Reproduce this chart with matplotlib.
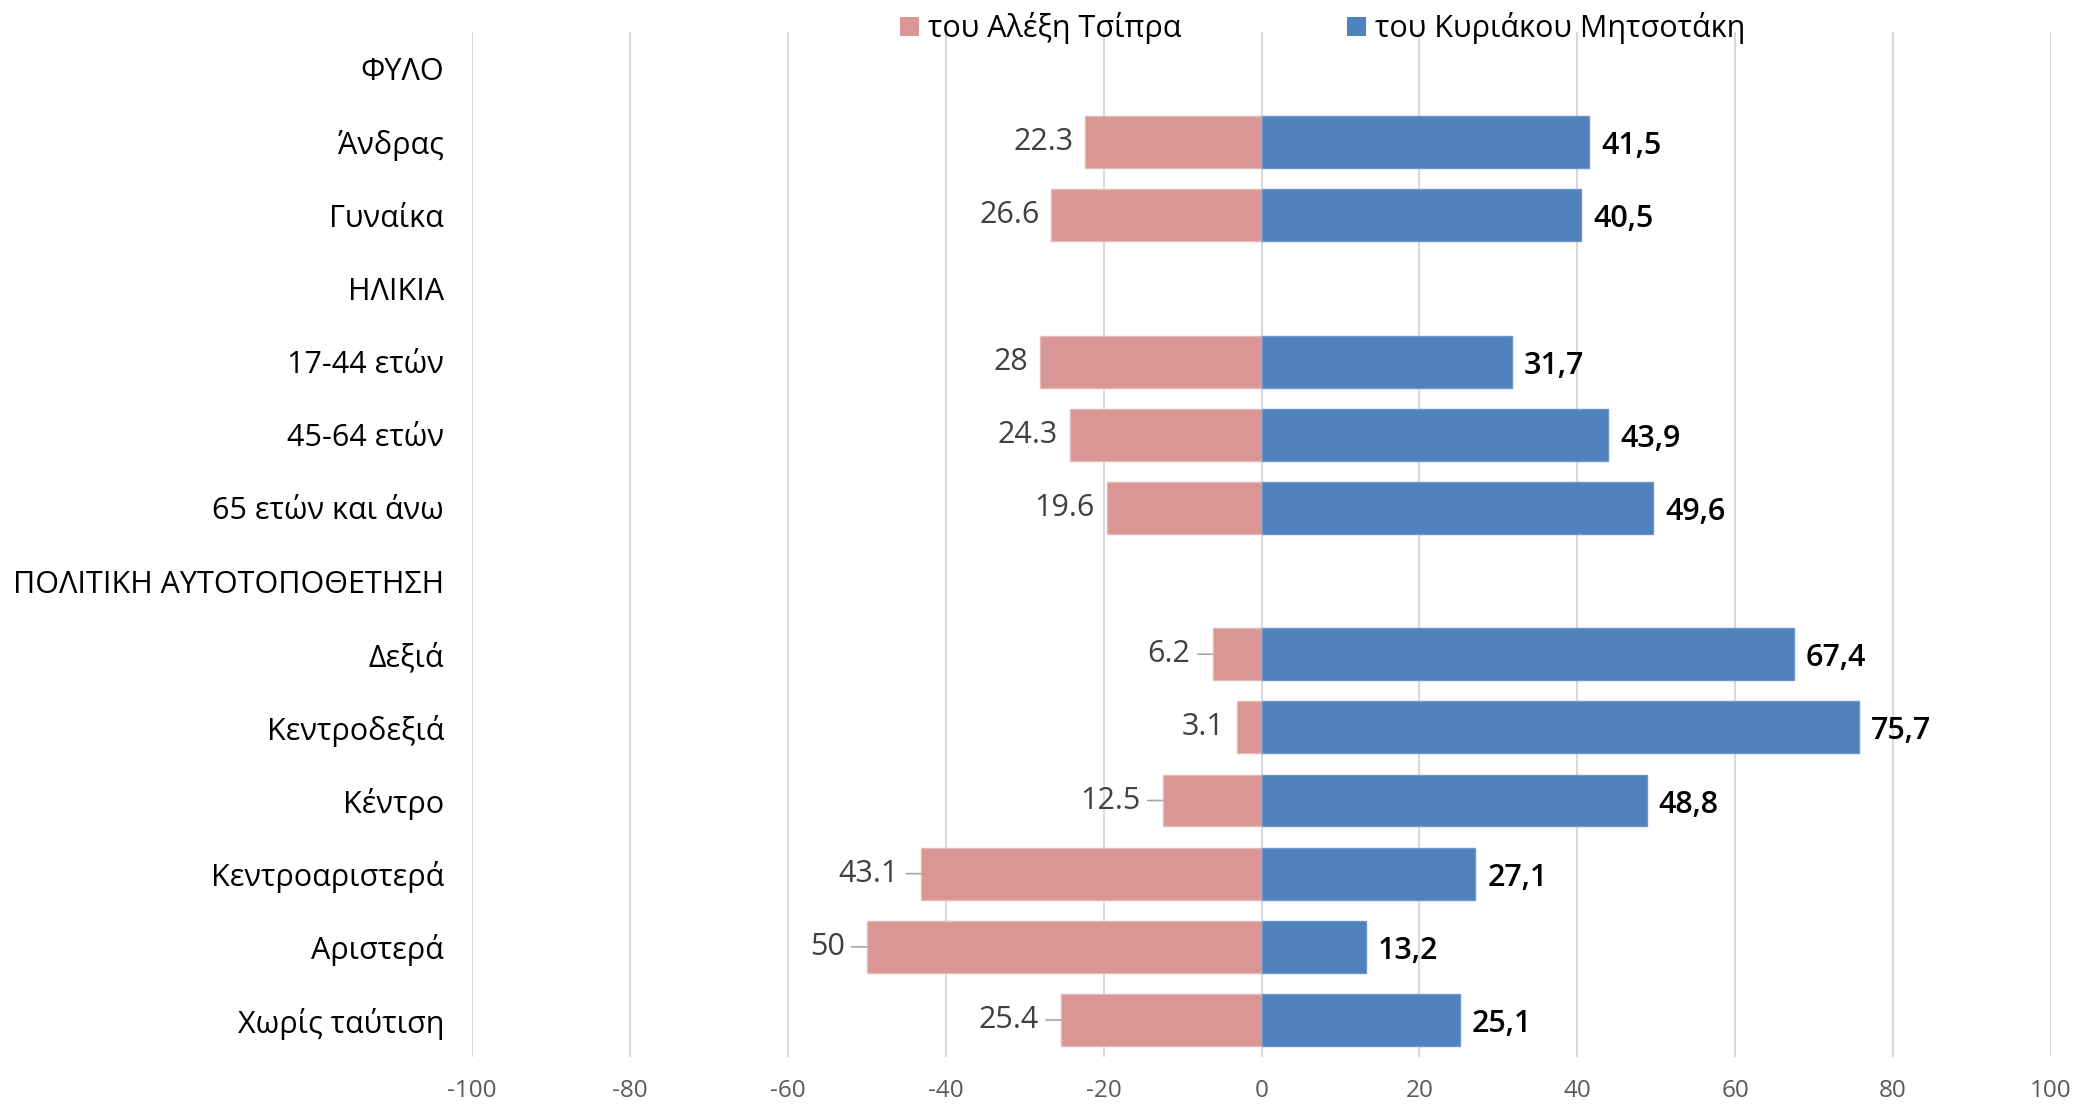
import numpy as np
import matplotlib
matplotlib.use("Agg")
import matplotlib.pyplot as plt
from matplotlib.patches import Patch

plt.rcParams['font.family'] = ['Open Sans', 'DejaVu Sans']

categories = ["ΦΥΛΟ", "Άνδρας", "Γυναίκα", "ΗΛΙΚΙΑ", "17-44 ετών", "45-64 ετών",
              "65 ετών και άνω", "ΠΟΛΙΤΙΚΗ ΑΥΤΟΤΟΠΟΘΕΤΗΣΗ", "Δεξιά", "Κεντροδεξιά",
              "Κέντρο", "Κεντροαριστερά", "Αριστερά", "Χωρίς ταύτιση"]
tsipras = [np.nan, 22.3, 26.6, np.nan, 28, 24.3, 19.6, np.nan, 6.2, 3.1, 12.5, 43.1, 50, 25.4]
mitsotakis = [np.nan, 41.5, 40.5, np.nan, 31.7, 43.9, 49.6, np.nan, 67.4, 75.7, 48.8, 27.1, 13.2, 25.1]
series_names = ["του Αλέξη Τσίπρα", "του Κυριάκου Μητσοτάκη"]
xticks = [-100, -80, -60, -40, -20, 0, 20, 40, 60, 80, 100]

# style
c_left = "#D99694"
c_right = "#4F81BD"
leader_idx = {8, 10, 11, 12, 13}

W, H = 2077, 1105
fig = plt.figure(figsize=(W / 100, H / 100), dpi=100)
ax = fig.add_axes([472 / W, 1 - 1056.6 / H, (2051 - 472) / W, (1056.6 - 32.3) / H])

y = np.arange(len(categories))
t = np.array(tsipras, dtype=float)
m = np.array(mitsotakis, dtype=float)

ax.barh(y, -t, height=0.71, color=c_left, edgecolor="#E6B9B8", linewidth=1, zorder=3)
ax.barh(y, m, height=0.71, color=c_right, edgecolor="#6F97CA", linewidth=1, zorder=3)

ax.set_xlim(-100, 100)
ax.set_ylim(len(categories) - 0.5, -0.5)
ax.set_xticks(xticks)
ax.set_xticklabels([str(v) for v in xticks])
ax.set_yticks(y)
ax.set_yticklabels(categories)
ax.tick_params(axis='y', length=0, pad=20, labelsize=22, labelcolor="#000000")
ax.tick_params(axis='x', length=0, pad=16, labelsize=17.5, labelcolor="#595959")
ax.grid(axis='x', color="#D9D9D9", linewidth=1.5, zorder=0)
ax.set_axisbelow(True)
for s in ax.spines.values():
    s.set_visible(False)

for i, (a, b) in enumerate(zip(t, m)):
    if not np.isnan(a):
        txt = ("%g" % a)
        if i in leader_idx:
            ax.annotate(txt, xy=(-a, i), xytext=(-22, 0), textcoords='offset pixels',
                        ha='right', va='center', fontsize=22, color="#404040",
                        arrowprops=dict(arrowstyle='-', color="#A6A6A6", lw=1.2,
                                        shrinkA=3, shrinkB=0))
        else:
            ax.annotate(txt, xy=(-a, i), xytext=(-12, 0), textcoords='offset pixels',
                        ha='right', va='center', fontsize=22, color="#404040")
    if not np.isnan(b):
        ax.annotate(("%g" % b).replace('.', ','), xy=(b, i), xytext=(12, -4),
                    textcoords='offset pixels', ha='left', va='center',
                    fontsize=22, color="#000000", fontweight='semibold')

handles = [Patch(facecolor=c_left), Patch(facecolor=c_right)]
fig.legend(handles, series_names, loc='upper left', bbox_to_anchor=(888 / W, 1.0),
           ncol=2, frameon=False, fontsize=22, handlelength=0.62, handleheight=0.62,
           handletextpad=0.3, columnspacing=5.4, borderaxespad=0.0)

fig.savefig("out.png", dpi=100)
